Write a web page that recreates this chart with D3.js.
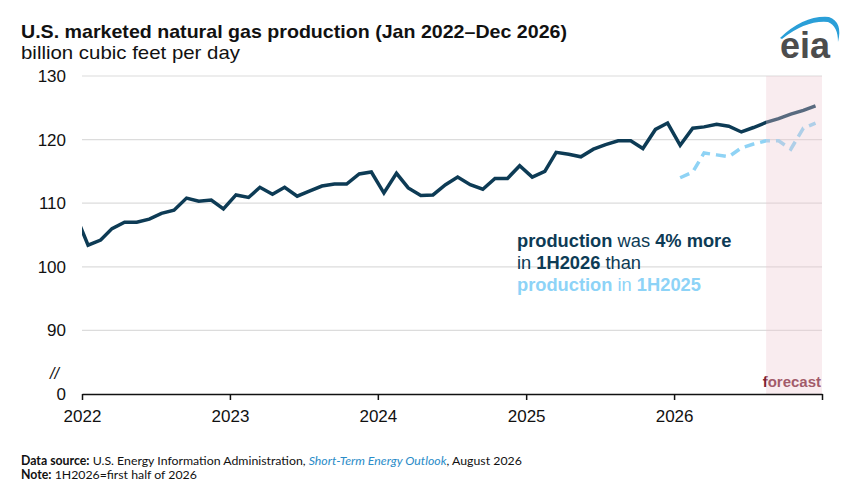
<!DOCTYPE html>
<html>
<head>
<meta charset="utf-8">
<script src="https://cdn.jsdelivr.net/npm/d3@7"></script>
<style>
  body { margin: 0; background: #fff; }
  text { font-family: "Liberation Sans", Arial, sans-serif; }
</style>
</head>
<body>
<svg id="chart" width="864" height="496"></svg>
<script>
// monthly production, billion cubic feet per day (Dec 2021 – Dec 2026)
let production = [
    108.2,
    103.4, 104.2, 106.0, 107.0, 107.0, 107.5, 108.4, 108.9, 110.8, 110.3, 110.5, 109.1,
    111.3, 110.9, 112.5, 111.4, 112.5, 111.1, 111.9, 112.7, 113.0, 113.0, 114.6, 114.9,
    111.6, 114.7, 112.4, 111.2, 111.3, 112.9, 114.1, 112.9, 112.2, 113.9, 113.9, 115.9,
    114.1, 115.0, 118.0, 117.7, 117.3, 118.5, 119.2, 119.8, 119.8, 118.6, 121.6, 122.6,
    119.1, 121.8, 122.0, 122.4, 122.1, 121.2, 121.9, 122.7, 123.3, 124.0, 124.6, 125.3
]
// previous-year production drawn across 2026 (Jan – Dec)
let prevYear = [114.0, 114.9, 117.9, 117.6, 117.3, 118.7, 119.3, 119.8, 119.8, 118.5, 121.8, 122.6]
let yTicks = [80, 90, 100, 110, 120, 130]
let xYears = [2022, 2023, 2024, 2025, 2026]
let forecastStart = new Date(2026, 7, 16)

let svg = d3.select('#chart')
let mLeft = 82, mRight = 822, mTop = 76, mBottom = 394

let x = d3.scaleTime()
    .domain([new Date(2022, 0, 1), new Date(2027, 0, 1)])
    .range([mLeft, mRight])
let y = d3.scaleLinear().domain([80, 130]).range([mBottom, mTop])

let mid = (yr, m) => new Date(yr, m, 16)
let prodPts = production.map((v, i) => ({ date: mid(2021, 11 + i), v: v }))
let prevPts = prevYear.map((v, i) => ({ date: mid(2026, i), v: v }))

// title
svg.append('text').attr('x', 21).attr('y', 38)
    .style('font-size', '19px').style('font-weight', 'bold').attr('fill', '#111')
    .attr('textLength', 546).attr('lengthAdjust', 'spacingAndGlyphs')
    .text('U.S. marketed natural gas production (Jan 2022–Dec 2026)')
svg.append('text').attr('x', 21).attr('y', 59)
    .style('font-size', '19px').attr('fill', '#111')
    .attr('textLength', 219).attr('lengthAdjust', 'spacingAndGlyphs')
    .text('billion cubic feet per day')

// grid
svg.append('g').selectAll('line')
    .data(yTicks.filter(d => d > 80))
    .join('line')
    .attr('x1', mLeft).attr('x2', mRight)
    .attr('y1', d => y(d)).attr('y2', d => y(d))
    .attr('stroke', '#dcdcdc').attr('stroke-width', 1.2)

svg.append('g').selectAll('text')
    .data(yTicks)
    .join('text')
    .attr('x', 66).attr('y', d => y(d) + 6)
    .attr('text-anchor', 'end')
    .style('font-size', '17px').attr('fill', '#111')
    .text(d => d === 80 ? '0' : d)
svg.append('text').attr('x', 50).attr('y', 379)
    .style('font-size', '16px').style('font-style', 'italic').attr('fill', '#111')
    .text('//')

// lines
svg.append('clipPath').attr('id', 'plot')
    .append('rect').attr('x', mLeft).attr('y', 0).attr('width', mRight - mLeft).attr('height', mBottom)
let line = d3.line().x(d => x(d.date)).y(d => y(d.v))

svg.append('path').datum(prevPts)
    .attr('d', line).attr('fill', 'none')
    .attr('stroke', '#8fd3f5').attr('stroke-width', 3.5)
    .attr('stroke-dasharray', '10,6')

svg.append('path').datum(prodPts)
    .attr('clip-path', 'url(#plot)')
    .attr('d', line).attr('fill', 'none')
    .attr('stroke', '#0d3b55').attr('stroke-width', 3.5)

// forecast label, then the shade over it
svg.append('text').attr('x', mRight - 1).attr('y', 387)
    .attr('text-anchor', 'end')
    .style('font-size', '15px').style('font-weight', 'bold').attr('fill', '#7b2335')
    .text('forecast')
svg.append('rect')
    .attr('x', x(forecastStart)).attr('y', mTop)
    .attr('width', mRight - x(forecastStart)).attr('height', mBottom - mTop)
    .attr('fill', 'rgb(236,200,208)').attr('fill-opacity', 0.34)

// x axis
let xAxis = svg.append('g').attr('transform', `translate(0,${mBottom})`)
    .call(d3.axisBottom(x)
        .tickValues(xYears.map(d => new Date(d, 0, 1)).concat([new Date(2027, 0, 1)]))
        .tickFormat(d => d.getFullYear() < 2027 ? d.getFullYear() : '')
        .tickSize(6).tickSizeOuter(0))
xAxis.select('.domain').attr('stroke', '#111').attr('stroke-width', 1.5)
xAxis.selectAll('line').attr('stroke', '#111').attr('stroke-width', 1.5)
xAxis.selectAll('text')
    .style('font-family', '"Liberation Sans", Arial, sans-serif')
    .style('font-size', '17px').attr('fill', '#111').attr('dy', '1.1em')

// annotation
let note = svg.append('text').attr('x', 517).style('font-size', '18.3px')
let l1 = note.append('tspan').attr('x', 517).attr('y', 247).attr('fill', '#0d3b55')
l1.append('tspan').style('font-weight', 'bold').text('production')
l1.append('tspan').text(' was ')
l1.append('tspan').style('font-weight', 'bold').text('4% more')
let l2 = note.append('tspan').attr('x', 517).attr('y', 269).attr('fill', '#0d3b55')
l2.append('tspan').text('in ')
l2.append('tspan').style('font-weight', 'bold').text('1H2026')
l2.append('tspan').text(' than')
let l3 = note.append('tspan').attr('x', 517).attr('y', 291).attr('fill', '#8dd3f7')
l3.append('tspan').style('font-weight', 'bold').text('production')
l3.append('tspan').text(' in ')
l3.append('tspan').style('font-weight', 'bold').text('1H2025')

// eia logo
svg.append('path')
    .attr('d', 'M780,38 Q804,15 829,17 Q843,22 838,42 Q838,26 828,22 Q806,20 782,39 Z')
    .attr('fill', '#2a9fd8')
svg.append('text').attr('x', 780).attr('y', 58)
    .style('font-size', '36px').style('font-weight', 'bold').attr('fill', '#4d4d4d')
    .attr('textLength', 50).attr('lengthAdjust', 'spacingAndGlyphs')
    .text('eia')

// footer
let foot = svg.append('g').style('font-size', '12.3px').attr('fill', '#111')
let f1 = foot.append('text').attr('x', 21).attr('y', 465)
f1.append('tspan').style('font-weight', 'bold').style('font-family', 'Lato').text('Data source:')
f1.append('tspan').style('font-family', 'Lato').text(' U.S. Energy Information Administration, ')
f1.append('tspan').style('font-family', 'Lato').style('font-style', 'italic').attr('fill', '#2a8cc8').text('Short-Term Energy Outlook')
f1.append('tspan').style('font-family', 'Lato').text(', August 2026')
let f2 = foot.append('text').attr('x', 21).attr('y', 479)
f2.append('tspan').style('font-weight', 'bold').style('font-family', 'Lato').text('Note:')
f2.append('tspan').style('font-family', 'Lato').text(' 1H2026=first half of 2026')
</script>
</body>
</html>
